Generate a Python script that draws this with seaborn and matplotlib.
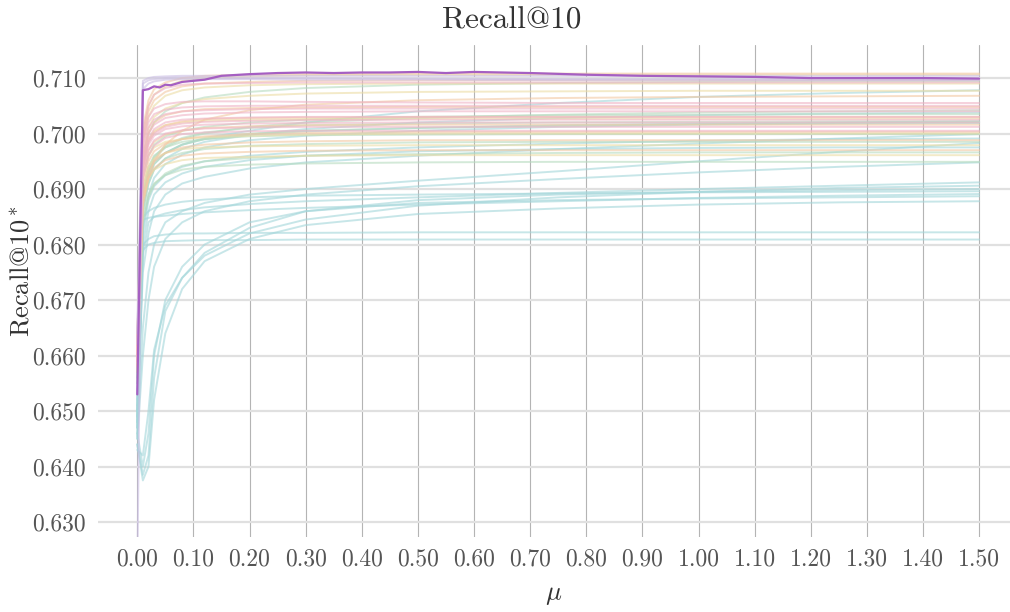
import matplotlib
matplotlib.use('Agg')
import matplotlib.pyplot as plt
import seaborn as sns
import pandas as pd
import numpy as np

# grade de mu usada para as curvas de fundo
mu = [0.00, 0.01, 0.02, 0.03, 0.05, 0.08, 0.12, 0.20, 0.30, 0.50, 0.75, 1.00, 1.25, 1.50]

# curvas de fundo, separadas por grupo de cor
ciano = [
    [0.6450, 0.6790, 0.6800, 0.6803, 0.6806, 0.6807, 0.6808, 0.6808, 0.6809, 0.6809, 0.6809, 0.6809, 0.6809, 0.6809],
    [0.6480, 0.6800, 0.6810, 0.6815, 0.6818, 0.6820, 0.6820, 0.6821, 0.6821, 0.6822, 0.6822, 0.6822, 0.6822, 0.6822],
    [0.6440, 0.6375, 0.6400, 0.6520, 0.6640, 0.6720, 0.6770, 0.6810, 0.6835, 0.6855, 0.6865, 0.6872, 0.6876, 0.6878],
    [0.6460, 0.6400, 0.6460, 0.6600, 0.6700, 0.6760, 0.6800, 0.6840, 0.6860, 0.6875, 0.6880, 0.6883, 0.6885, 0.6887],
    [0.6500, 0.6850, 0.6860, 0.6866, 0.6872, 0.6877, 0.6881, 0.6885, 0.6888, 0.6890, 0.6892, 0.6894, 0.6895, 0.6896],
    [0.6470, 0.6780, 0.6840, 0.6850, 0.6856, 0.6862, 0.6867, 0.6873, 0.6878, 0.6885, 0.6893, 0.6900, 0.6906, 0.6912],
    [0.6430, 0.6420, 0.6500, 0.6610, 0.6690, 0.6740, 0.6780, 0.6820, 0.6845, 0.6870, 0.6885, 0.6895, 0.6902, 0.6906],
    [0.6460, 0.6650, 0.6750, 0.6800, 0.6840, 0.6860, 0.6875, 0.6890, 0.6900, 0.6915, 0.6932, 0.6950, 0.6967, 0.6983],
    [0.6490, 0.6750, 0.6820, 0.6860, 0.6890, 0.6910, 0.6922, 0.6937, 0.6948, 0.6960, 0.6972, 0.6982, 0.6991, 0.6999],
    [0.6520, 0.6880, 0.6930, 0.6950, 0.6965, 0.6980, 0.6992, 0.7005, 0.7020, 0.7040, 0.7055, 0.7066, 0.7073, 0.7078],
    [0.6510, 0.6870, 0.6920, 0.6945, 0.6965, 0.6980, 0.6990, 0.6998, 0.7004, 0.7010, 0.7015, 0.7018, 0.7020, 0.7022],
    [0.6480, 0.6820, 0.6880, 0.6905, 0.6925, 0.6940, 0.6950, 0.6960, 0.6967, 0.6975, 0.6982, 0.6987, 0.6990, 0.6991],
    [0.6470, 0.6800, 0.6860, 0.6890, 0.6912, 0.6928, 0.6940, 0.6952, 0.6960, 0.6968, 0.6972, 0.6974, 0.6975, 0.6975],
    [0.6500, 0.6860, 0.6910, 0.6935, 0.6955, 0.6972, 0.6985, 0.6998, 0.7008, 0.7020, 0.7028, 0.7033, 0.7036, 0.7038],
    [0.6470, 0.6845, 0.6848, 0.6850, 0.6852, 0.6855, 0.6858, 0.6862, 0.6866, 0.6872, 0.6878, 0.6884, 0.6888, 0.6891],
    [0.6440, 0.6385, 0.6420, 0.6560, 0.6680, 0.6740, 0.6785, 0.6830, 0.6860, 0.6880, 0.6890, 0.6895, 0.6898, 0.6900],
    [0.6450, 0.6600, 0.6700, 0.6760, 0.6810, 0.6840, 0.6860, 0.6878, 0.6890, 0.6905, 0.6918, 0.6930, 0.6940, 0.6948],
    [0.6490, 0.6830, 0.6890, 0.6920, 0.6945, 0.6962, 0.6975, 0.6988, 0.6996, 0.7005, 0.7012, 0.7016, 0.7018, 0.7019],
]
verde = [
    [0.6560, 0.6850, 0.6890, 0.6910, 0.6925, 0.6935, 0.6940, 0.6944, 0.6946, 0.6948, 0.6949, 0.6949, 0.6949, 0.6949],
    [0.6580, 0.6900, 0.6940, 0.6960, 0.6975, 0.6985, 0.6990, 0.6995, 0.6997, 0.6998, 0.6999, 0.6999, 0.6999, 0.6999],
    [0.6570, 0.6880, 0.6930, 0.6955, 0.6975, 0.6990, 0.7000, 0.7012, 0.7020, 0.7028, 0.7034, 0.7038, 0.7040, 0.7042],
    [0.6590, 0.6920, 0.6960, 0.6980, 0.6995, 0.7005, 0.7012, 0.7020, 0.7025, 0.7030, 0.7033, 0.7034, 0.7035, 0.7035],
    [0.6600, 0.6950, 0.7000, 0.7020, 0.7040, 0.7055, 0.7065, 0.7075, 0.7082, 0.7088, 0.7091, 0.7093, 0.7094, 0.7094],
    [0.6550, 0.6860, 0.6910, 0.6935, 0.6955, 0.6965, 0.6972, 0.6978, 0.6981, 0.6984, 0.6985, 0.6985, 0.6985, 0.6985],
    [0.6560, 0.6870, 0.6920, 0.6945, 0.6965, 0.6980, 0.6990, 0.7000, 0.7005, 0.7010, 0.7014, 0.7017, 0.7019, 0.7020],
    [0.6570, 0.6890, 0.6935, 0.6958, 0.6978, 0.6992, 0.7002, 0.7010, 0.7015, 0.7018, 0.7020, 0.7021, 0.7022, 0.7022],
    [0.6550, 0.6840, 0.6885, 0.6908, 0.6928, 0.6942, 0.6950, 0.6956, 0.6960, 0.6963, 0.6965, 0.6966, 0.6966, 0.6966],
]
amarelo = [
    [0.6620, 0.7000, 0.7050, 0.7070, 0.7085, 0.7095, 0.7100, 0.7103, 0.7105, 0.7106, 0.7106, 0.7106, 0.7106, 0.7106],
    [0.6610, 0.6980, 0.7030, 0.7050, 0.7068, 0.7078, 0.7083, 0.7087, 0.7089, 0.7090, 0.7090, 0.7090, 0.7090, 0.7090],
    [0.6600, 0.6940, 0.6990, 0.7005, 0.7015, 0.7020, 0.7023, 0.7025, 0.7026, 0.7027, 0.7027, 0.7027, 0.7027, 0.7027],
    [0.6590, 0.6900, 0.6940, 0.6955, 0.6965, 0.6972, 0.6975, 0.6977, 0.6978, 0.6979, 0.6979, 0.6979, 0.6979, 0.6979],
    [0.6580, 0.6880, 0.6920, 0.6935, 0.6945, 0.6952, 0.6956, 0.6958, 0.6960, 0.6961, 0.6961, 0.6961, 0.6961, 0.6961],
    [0.6600, 0.6920, 0.6960, 0.6975, 0.6985, 0.6990, 0.6993, 0.6996, 0.6998, 0.7000, 0.7000, 0.7000, 0.7000, 0.7000],
    [0.6610, 0.6960, 0.7010, 0.7030, 0.7045, 0.7055, 0.7062, 0.7068, 0.7072, 0.7075, 0.7076, 0.7077, 0.7077, 0.7077],
]
laranja = [
    [0.6630, 0.7010, 0.7060, 0.7080, 0.7092, 0.7100, 0.7104, 0.7106, 0.7107, 0.7108, 0.7108, 0.7108, 0.7108, 0.7108],
    [0.6600, 0.6870, 0.6920, 0.6950, 0.6980, 0.7005, 0.7025, 0.7042, 0.7052, 0.7060, 0.7064, 0.7066, 0.7067, 0.7068],
    [0.6610, 0.6960, 0.7000, 0.7020, 0.7033, 0.7040, 0.7044, 0.7046, 0.7047, 0.7048, 0.7048, 0.7048, 0.7048, 0.7048],
    [0.6600, 0.6930, 0.6970, 0.6985, 0.6998, 0.7005, 0.7010, 0.7013, 0.7015, 0.7016, 0.7016, 0.7016, 0.7016, 0.7016],
    [0.6590, 0.6910, 0.6950, 0.6968, 0.6982, 0.6990, 0.6995, 0.6999, 0.7001, 0.7003, 0.7003, 0.7003, 0.7003, 0.7003],
    [0.6580, 0.6890, 0.6930, 0.6950, 0.6965, 0.6975, 0.6980, 0.6984, 0.6986, 0.6988, 0.6988, 0.6988, 0.6988, 0.6988],
    [0.6570, 0.6880, 0.6920, 0.6938, 0.6952, 0.6960, 0.6964, 0.6967, 0.6969, 0.6970, 0.6970, 0.6970, 0.6970, 0.6970],
    [0.6620, 0.6990, 0.7040, 0.7060, 0.7075, 0.7085, 0.7090, 0.7093, 0.7095, 0.7096, 0.7096, 0.7096, 0.7096, 0.7096],
    [0.6600, 0.6940, 0.6985, 0.7002, 0.7015, 0.7022, 0.7026, 0.7028, 0.7029, 0.7030, 0.7030, 0.7030, 0.7030, 0.7030],
]
rosa = [
    [0.6620, 0.6980, 0.7020, 0.7035, 0.7043, 0.7047, 0.7049, 0.7050, 0.7050, 0.7050, 0.7050, 0.7050, 0.7050, 0.7050],
    [0.6610, 0.6970, 0.7010, 0.7025, 0.7035, 0.7040, 0.7042, 0.7044, 0.7045, 0.7045, 0.7045, 0.7045, 0.7045, 0.7045],
    [0.6600, 0.6950, 0.6990, 0.7008, 0.7020, 0.7025, 0.7027, 0.7029, 0.7030, 0.7030, 0.7030, 0.7030, 0.7030, 0.7030],
    [0.6590, 0.6940, 0.6980, 0.6996, 0.7008, 0.7013, 0.7016, 0.7018, 0.7019, 0.7020, 0.7020, 0.7020, 0.7020, 0.7020],
    [0.6590, 0.6930, 0.6970, 0.6988, 0.7000, 0.7006, 0.7009, 0.7011, 0.7012, 0.7012, 0.7012, 0.7012, 0.7012, 0.7012],
    [0.6580, 0.6920, 0.6960, 0.6978, 0.6992, 0.6999, 0.7002, 0.7004, 0.7005, 0.7005, 0.7005, 0.7005, 0.7005, 0.7005],
    [0.6620, 0.6990, 0.7030, 0.7045, 0.7053, 0.7057, 0.7058, 0.7058, 0.7057, 0.7056, 0.7055, 0.7055, 0.7055, 0.7055],
    [0.6630, 0.7000, 0.7050, 0.7070, 0.7082, 0.7088, 0.7090, 0.7091, 0.7092, 0.7092, 0.7092, 0.7092, 0.7092, 0.7092],
    [0.6600, 0.6960, 0.7000, 0.7016, 0.7028, 0.7033, 0.7036, 0.7038, 0.7039, 0.7040, 0.7040, 0.7040, 0.7040, 0.7040],
    [0.6590, 0.6945, 0.6985, 0.7000, 0.7012, 0.7018, 0.7021, 0.7023, 0.7024, 0.7025, 0.7025, 0.7025, 0.7025, 0.7025],
]
lilas = [
    [0.6200, 0.7095, 0.7100, 0.7102, 0.7103, 0.7104, 0.7104, 0.7104, 0.7104, 0.7104, 0.7104, 0.7104, 0.7104, 0.7104],
    [0.6640, 0.7090, 0.7096, 0.7098, 0.7100, 0.7101, 0.7101, 0.7100, 0.7100, 0.7099, 0.7098, 0.7098, 0.7097, 0.7097],
    [0.6620, 0.7080, 0.7090, 0.7094, 0.7097, 0.7098, 0.7098, 0.7098, 0.7097, 0.7097, 0.7096, 0.7096, 0.7096, 0.7096],
]

# curva em destaque
mu_destaque = [0.00, 0.01, 0.02, 0.03, 0.04, 0.05, 0.06, 0.08, 0.10, 0.12, 0.15, 0.20, 0.25, 0.30, 0.35,
               0.40, 0.45, 0.50, 0.55, 0.60, 0.65, 0.70, 0.80, 0.90, 1.00, 1.10, 1.20, 1.30, 1.40, 1.50]
recall_destaque = [0.6530, 0.7078, 0.7080, 0.7085, 0.7083, 0.7088, 0.7087, 0.7093, 0.7095, 0.7097, 0.7104,
                   0.7107, 0.7109, 0.7110, 0.7109, 0.7110, 0.7110, 0.7111, 0.7109, 0.7111, 0.7110, 0.7109,
                   0.7106, 0.7104, 0.7103, 0.7102, 0.7100, 0.7100, 0.7100, 0.7099]

cores = {'ciano': '#a3d6da', 'verde': '#b6dbbf', 'amarelo': '#ecdca4',
         'laranja': '#f3c8a2', 'rosa': '#efb3c5', 'lilas': '#cabde4'}
grupos = {'ciano': ciano, 'verde': verde, 'amarelo': amarelo,
          'laranja': laranja, 'rosa': rosa, 'lilas': lilas}

linhas = []
paleta = {}
for grupo, curvas in grupos.items():
    for i, valores in enumerate(curvas):
        nome = grupo + str(i)
        paleta[nome] = cores[grupo]
        for m, v in zip(mu, valores):
            linhas.append({'mu': m, 'recall': v, 'run': nome})
df = pd.DataFrame(linhas)
df_dest = pd.DataFrame({'mu': mu_destaque, 'recall': recall_destaque})

sns.set_style('white')
plt.rcParams['font.family'] = 'serif'
plt.rcParams['font.serif'] = ['cmr10']
plt.rcParams['mathtext.fontset'] = 'cm'
plt.rcParams['axes.formatter.use_mathtext'] = True

fig = plt.figure(figsize=(10.10, 6.12), dpi=100)
ax = fig.add_axes([0.097, 0.1225, 0.903, 0.8035])

sns.lineplot(data=df, x='mu', y='recall', hue='run', palette=paleta, units='run', estimator=None,
             legend=False, lw=1.4, alpha=0.6, ax=ax)
sns.lineplot(data=df_dest, x='mu', y='recall', color='#a55fc2', lw=1.6, ax=ax)

ax.set_xlim(-0.07, 1.555)
ax.set_ylim(0.6273, 0.7159)
ax.set_xticks(np.arange(0, 1.51, 0.1))
ax.set_xticklabels(['{:.2f}'.format(t) for t in np.arange(0, 1.51, 0.1)])
ax.set_yticks(np.arange(0.63, 0.7101, 0.01))
ax.set_yticklabels(['{:.3f}'.format(t) for t in np.arange(0.63, 0.7101, 0.01)])

ax.set_axisbelow(True)
ax.grid(axis='y', color='#e0e0e0', lw=1.6)
ax.grid(axis='x', color='#b4b4b4', lw=0.8)
for s in ax.spines.values():
    s.set_visible(False)
ax.tick_params(axis='both', labelsize=17, labelcolor='#555555', color='#d0d0d0', length=5, width=1)

ax.set_title('Recall@10', fontsize=22.5, color='#333333', pad=12, x=0.454)
ax.set_ylabel('Recall@10$^*$', fontsize=19, color='#333333')
ax.yaxis.set_label_coords(-0.071, 0.54)
ax.set_xlabel(r'$\mu$', fontsize=19, color='#333333', labelpad=9)

plt.savefig('out.png', dpi=100)
plt.close()
